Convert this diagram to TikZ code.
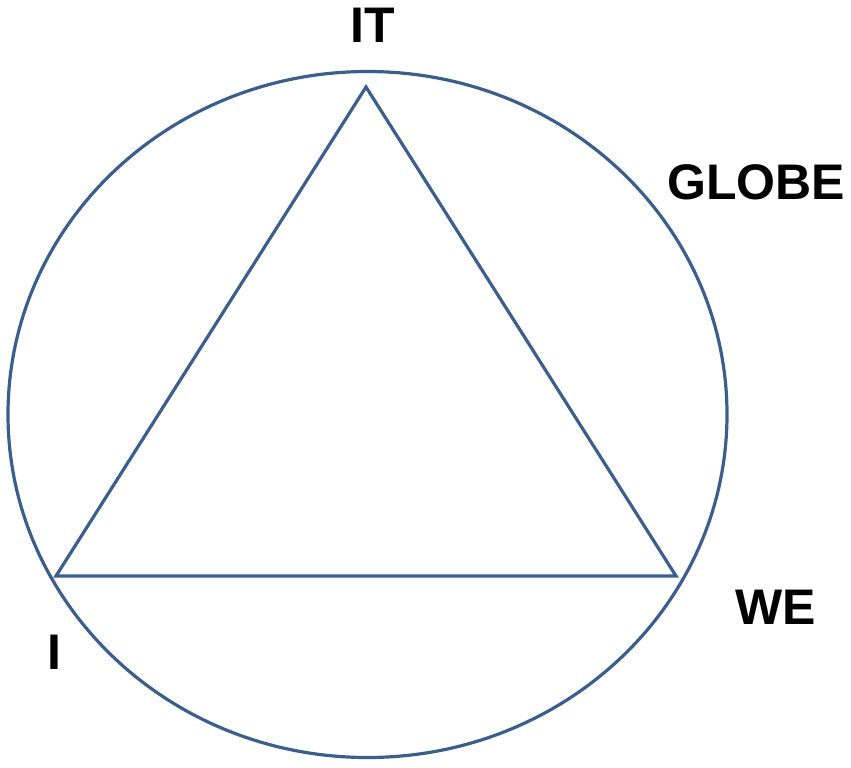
\documentclass[tikz,border=0pt]{standalone}
\usepackage{fontspec}
\setmainfont{Liberation Sans}
\definecolor{globeblue}{HTML}{3A5F8D}

\begin{document}
\begin{tikzpicture}[
        x=1pt, y=-1pt,
        line/.style = {draw=globeblue, line width=3.2pt},% circle and triangle
        L/.style = {font=\fontsize{50}{50}\selectfont\bfseries,
                inner sep=0pt, anchor=center},
    ]
    \useasboundingbox (0,0) rectangle (851,768);
    % globe
    \draw[line] (367.5,414.5) ellipse [x radius=359.5pt, y radius=343pt];
    % corners of the triangle
    \coordinate (it) at (366,87);
    \coordinate (i)  at (56,576);
    \coordinate (we) at (676,576);
    \draw[line, line join=miter] (it) -- (we) -- (i) -- cycle;
    % labels
    \node[L] (lit)    at (372.5,25.5)  {IT};
    \node[L] (lglobe) at (756,182.5)   {GLOBE};
    \node[L] (lwe)    at (776,607)     {WE};
    \node[L] (li)     at (54,652.5)    {I};
\end{tikzpicture}
\end{document}
